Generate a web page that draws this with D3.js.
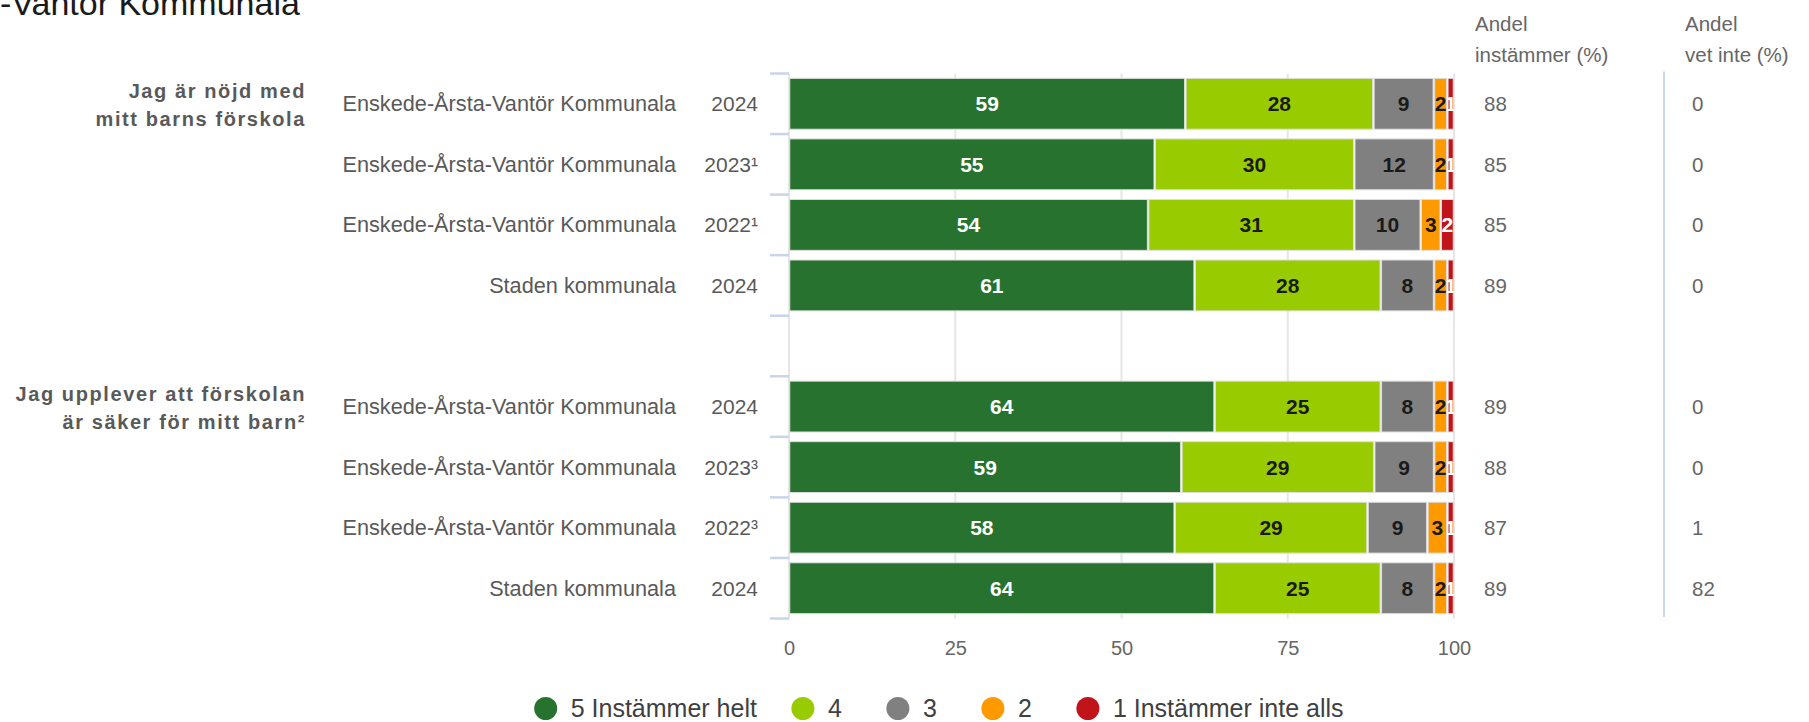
<!DOCTYPE html>
<html>
<head>
<meta charset="utf-8">
<script src="https://cdn.jsdelivr.net/npm/d3@7"></script>
<style>
  body { margin: 0; background: #fff; overflow: hidden; }
  svg { display: block; font-family: "Liberation Sans", Arial, sans-serif; }
</style>
</head>
<body>
<svg id="chart" width="1809" height="722"></svg>
<script>
var title = "-Vantör Kommunala";
var questions = [["Jag är nöjd med", "mitt barns förskola"], ["Jag upplever att förskolan", "är säker för mitt barn²"]];
var units = ["Enskede-Årsta-Vantör Kommunala", "Enskede-Årsta-Vantör Kommunala", "Enskede-Årsta-Vantör Kommunala", "Staden kommunala",
             "Enskede-Årsta-Vantör Kommunala", "Enskede-Årsta-Vantör Kommunala", "Enskede-Årsta-Vantör Kommunala", "Staden kommunala"];
var years = ["2024", "2023¹", "2022¹", "2024", "2024", "2023³", "2022³", "2024"];
var s5 = [59, 55, 54, 61, 64, 59, 58, 64];
var s4 = [28, 30, 31, 28, 25, 29, 29, 25];
var s3 = [9, 12, 10, 8, 8, 9, 9, 8];
var s2 = [2, 2, 3, 2, 2, 2, 3, 2];
var s1 = [1, 1, 2, 1, 1, 1, 1, 1];
var agree = [88, 85, 85, 89, 89, 88, 87, 89];
var dontKnow = [0, 0, 0, 0, 0, 0, 1, 82];
var seriesNames = ["5 Instämmer helt", "4", "3", "2", "1 Instämmer inte alls"];
var xTicks = [0, 25, 50, 75, 100];

var colors = ["#26722e", "#99cc00", "#808080", "#ff9900", "#c0141a"];
var labelColors = ["#fff", "#1a1a1a", "#1a1a1a", "#1a1a1a", "#fff"];
var series = [s5, s4, s3, s2, s1];

// rows 0-3 in slots 0-3, empty slot 4, rows 4-7 in slots 5-8
var slotOf = function (i) { return i < 4 ? i : i + 1; };

var svg = d3.select("#chart");

var x = d3.scaleLinear().domain([0, 100]).range([789, 1454]);
var slot = d3.scaleBand().domain(d3.range(9)).range([73.5, 618.5]).padding(0);
var barH = slot.bandwidth() * 0.84;
var cy = function (i) { return slot(slotOf(i)) + slot.bandwidth() / 2; };

// title (top part cut like the original)
svg.append("text")
    .attr("x", 0).attr("y", 15)
    .attr("font-size", 34)
    .attr("fill", "#1a1a1a")
    .text(title);

// gridlines
svg.append("g").selectAll("line")
    .data(xTicks)
    .enter().append("line")
    .attr("x1", function (d) { return x(d); })
    .attr("x2", function (d) { return x(d); })
    .attr("y1", slot.range()[0])
    .attr("y2", slot.range()[1])
    .attr("stroke", "#e6e6e6")
    .attr("stroke-width", 2);

// left axis ticks at slot boundaries
var bounds = d3.range(10).map(function (k) { return slot.range()[0] + k * slot.step(); });
svg.append("g").selectAll("line")
    .data(bounds)
    .enter().append("line")
    .attr("x1", x(0) - 19).attr("x2", x(0))
    .attr("y1", function (d) { return d; })
    .attr("y2", function (d) { return d; })
    .attr("stroke", "#c8d4ea")
    .attr("stroke-width", 2.5);

// stacked bars
var rows = d3.range(8).map(function (i) {
    var vals = series.map(function (s) { return s[i]; });
    var total = d3.sum(vals);
    var acc = 0;
    return vals.map(function (v, k) {
        var seg = { row: i, k: k, v: v, x0: acc / total * 100 };
        acc += v;
        seg.x1 = acc / total * 100;
        return seg;
    });
});
var segs = [].concat.apply([], rows);

var defs = svg.append("defs");
defs.selectAll("clipPath")
    .data(segs)
    .enter().append("clipPath")
    .attr("id", function (d) { return "c" + d.row + "_" + d.k; })
    .append("rect")
    .attr("x", function (d) { return x(d.x0); })
    .attr("width", function (d) { return x(d.x1) - x(d.x0); })
    .attr("y", function (d) { return cy(d.row) - barH / 2; })
    .attr("height", barH);

svg.append("g").selectAll("rect")
    .data(segs)
    .enter().append("rect")
    .attr("x", function (d) { return x(d.x0) + 0.75; })
    .attr("width", function (d) { return Math.max(0, x(d.x1) - x(d.x0) - 1.5); })
    .attr("y", function (d) { return cy(d.row) - barH / 2; })
    .attr("height", barH)
    .attr("fill", function (d) { return colors[d.k]; })
    .attr("stroke", "#dedede")
    .attr("stroke-width", 1);

svg.append("g").selectAll("text")
    .data(segs)
    .enter().append("text")
    .attr("clip-path", function (d) { return "url(#c" + d.row + "_" + d.k + ")"; })
    .attr("x", function (d) { return (x(d.x0) + x(d.x1)) / 2; })
    .attr("y", function (d) { return cy(d.row) + 7.5; })
    .attr("text-anchor", "middle")
    .attr("font-size", 21)
    .attr("font-weight", "bold")
    .attr("fill", function (d) { return labelColors[d.k]; })
    .text(function (d) { return d.v; });

// category labels
var labG = svg.append("g").attr("fill", "#595959").attr("font-size", 21.7);
labG.selectAll(".unit")
    .data(units)
    .enter().append("text")
    .attr("x", 676)
    .attr("y", function (d, i) { return cy(i) + 7.5; })
    .attr("text-anchor", "end")
    .text(function (d) { return d; });
labG.selectAll(".year")
    .data(years)
    .enter().append("text")
    .attr("x", 758)
    .attr("y", function (d, i) { return cy(i) + 7.5; })
    .attr("text-anchor", "end")
    .attr("font-size", 21)
    .text(function (d) { return d; });

// question labels
svg.append("g").selectAll("text")
    .data(questions)
    .enter().append("text")
    .attr("text-anchor", "end")
    .attr("font-size", 20)
    .attr("font-weight", "bold")
    .attr("letter-spacing", 1.6)
    .attr("fill", "#595959")
    .each(function (d, q) {
        var base = cy(q * 4) - 6;
        d3.select(this).selectAll("tspan")
            .data(d)
            .enter().append("tspan")
            .attr("x", 306)
            .attr("y", function (t, j) { return base + j * 28.5; })
            .text(function (t) { return t; });
    });

// x axis
var xAxis = svg.append("g")
    .attr("transform", "translate(0," + 641 + ")")
    .call(d3.axisBottom(x).tickValues(xTicks).tickSize(0).tickPadding(0));
xAxis.select(".domain").remove();
xAxis.selectAll("text")
    .attr("font-size", 20)
    .attr("font-family", "Liberation Sans, Arial, sans-serif")
    .attr("fill", "#666")
    .attr("dy", "0.71em");

// right columns
var cols = [
    { x: 1475, head: ["Andel", "instämmer (%)"], vals: agree, vx: 1484 },
    { x: 1685, head: ["Andel", "vet inte (%)"], vals: dontKnow, vx: 1692 }
];
cols.forEach(function (c) {
    var t = svg.append("text").attr("font-size", 20.5).attr("fill", "#666");
    t.selectAll("tspan").data(c.head).enter().append("tspan")
        .attr("x", c.x)
        .attr("y", function (d, j) { return 30.5 + j * 31; })
        .text(function (d) { return d; });
    svg.append("g").selectAll("text")
        .data(c.vals)
        .enter().append("text")
        .attr("x", c.vx)
        .attr("y", function (d, i) { return cy(i) + 7.5; })
        .attr("font-size", 20.5)
        .attr("fill", "#666")
        .text(function (d) { return d; });
});

svg.append("line")
    .attr("x1", 1664).attr("x2", 1664)
    .attr("y1", 71.5).attr("y2", 617)
    .attr("stroke", "#c9d6ee")
    .attr("stroke-width", 2);

// legend
var legend = svg.append("g").attr("transform", "translate(0,708.5)");
var items = legend.selectAll("g")
    .data(seriesNames)
    .enter().append("g");
items.append("circle")
    .attr("r", 11.5)
    .attr("fill", function (d, i) { return colors[i]; });
items.append("text")
    .attr("x", 25)
    .attr("y", 8.5)
    .attr("font-size", 25)
    .attr("fill", "#404040")
    .text(function (d) { return d; });
var pos = 545.7;
items.each(function () {
    var g = d3.select(this);
    g.attr("transform", "translate(" + pos + ",0)");
    pos += 25 + Math.max(g.select("text").node().getComputedTextLength(), 24) + 46;
});
</script>
</body>
</html>
